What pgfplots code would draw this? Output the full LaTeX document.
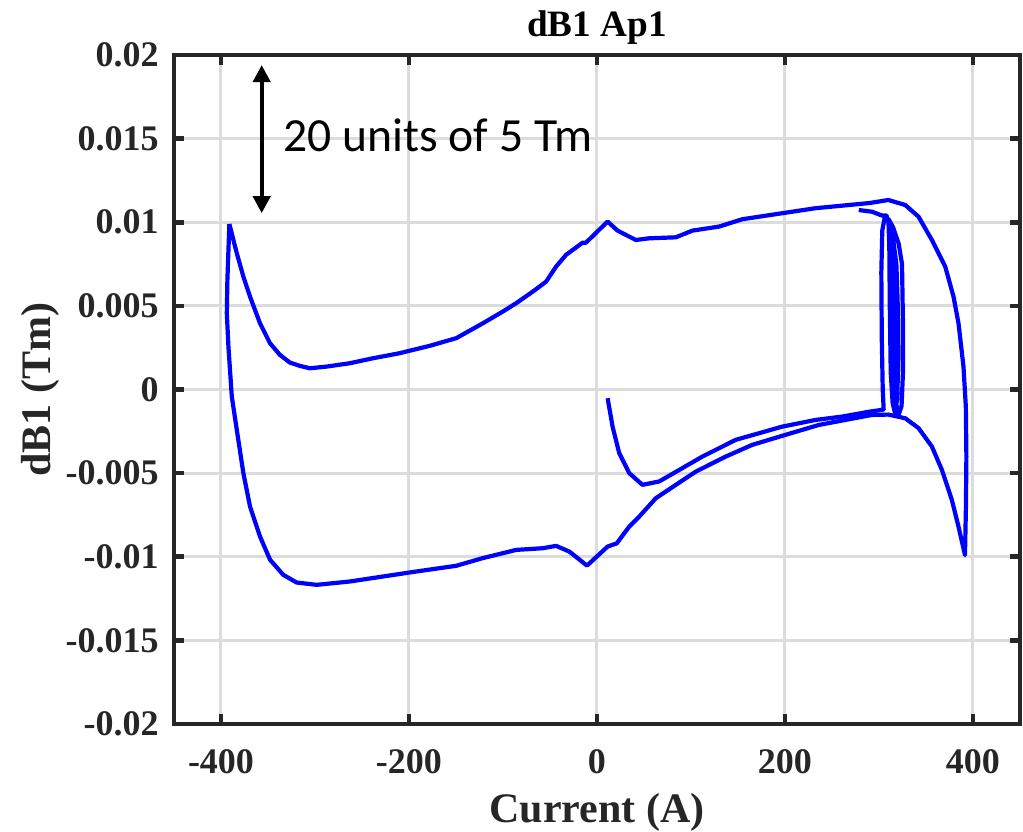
\documentclass[border=0pt]{standalone}
\usepackage{fontspec}
\setmainfont{Liberation Serif}
\newfontfamily\cf{Carlito}
\usepackage{pgfplots}
\pgfplotsset{compat=1.18}
\usetikzlibrary{arrows.meta}
\definecolor{axc}{RGB}{38,38,38}
\definecolor{gridc}{RGB}{220,220,220}
\definecolor{lineblue}{RGB}{0,0,255}
\begin{document}
\begin{tikzpicture}
\useasboundingbox (-87pt,-53.5pt) rectangle (424.5pt,362pt);
\begin{axis}[
  at={(0,0)}, anchor=south west,
  scale only axis, width=423pt, height=334.5pt,
  xmin=-450, xmax=450, ymin=-0.02, ymax=0.02,
  xtick={-400,-200,0,200,400},
  xticklabels={-400,-200,0,200,400},
  ytick={-0.02,-0.015,-0.01,-0.005,0,0.005,0.01,0.015,0.02},
  yticklabels={-0.02,-0.015,-0.01,-0.005,0,0.005,0.01,0.015,0.02},
  scaled y ticks=false, scaled x ticks=false,
  grid=major,
  major grid style={gridc, line width=1.5pt},
  axis line style={axc, line width=2.3pt},
  tick style={axc, line width=2.3pt},
  tick align=inside,
  major tick length=5pt,
  ticklabel style={font=\bfseries\fontsize{18}{18}\selectfont, text=axc, inner sep=0pt},
  xticklabel style={anchor=base, yshift=-24.5pt},
  yticklabel style={anchor=east, xshift=-7.5pt},
  label style={font=\bfseries\fontsize{21}{21}\selectfont, text=axc, inner sep=0pt},
  xlabel={Current (A)},
  xlabel style={at={(axis description cs:0.5,-0.1465)}, anchor=base},
  ylabel={dB1 (Tm)},
  ylabel style={at={(axis description cs:-0.1584,0.5)}, anchor=center},
  title={dB1 Ap1},
  title style={at={(axis description cs:0.5,1)}, anchor=base, yshift=3.5pt, font=\bfseries\fontsize{18.6}{18.6}\selectfont, text=black, inner sep=0pt},
]
% outer loop
\addplot[lineblue, line width=2.1pt, line join=round, mark=none] coordinates {
(-391.1,0.0099) (-383.2,0.00815) (-376.2,0.00675) (-369.1,0.00555) (-358.5,0.00396)
(-347.9,0.00277) (-337.3,0.00207) (-326.7,0.00161) (-316,0.00141) (-305.4,0.00127)
(-287.7,0.00137) (-263,0.00157) (-238.2,0.00187) (-209.9,0.00217) (-202.8,0.00227)
(-178,0.00261) (-149.7,0.00307) (-121.4,0.00396) (-100.2,0.00466) (-86,0.00516)
(-68.4,0.00585) (-54.1,0.00645) (-43.5,0.00735) (-32.9,0.00805) (-15.3,0.00878)
(-11.7,0.00878) (11.3,0.01004) (21.9,0.0095) (34.3,0.00914) (41.4,0.00894)
(55.5,0.00904) (83.9,0.0091) (101.5,0.0095) (129.8,0.00974) (154.6,0.01018)
(197,0.01054) (232.5,0.01084) (267.8,0.01103) (290,0.01115) (310,0.01133)
(328,0.01103) (342.1,0.01033) (356.3,0.00894) (370.5,0.00735) (379.3,0.00555)
(384.6,0.00396) (389.9,0.00137) (392.4,-0.00102) (393,-0.004) (392.5,-0.007)
(391.5,-0.0099) (384.6,-0.0082) (377.5,-0.0066) (366.9,-0.0048) (356.3,-0.00341)
(342.1,-0.00231) (328,-0.00172) (310,-0.0015) (292.6,-0.00152) (264.3,-0.00182)
(236,-0.00212) (200.6,-0.00271) (165.2,-0.00331) (136.9,-0.00401) (105.1,-0.00491)
(83.9,-0.0057) (62.6,-0.0065) (44.9,-0.0076) (34.3,-0.0082) (21,-0.0092)
(11.3,-0.00939) (-10.6,-0.01053) (-29.4,-0.00969) (-43.5,-0.00935) (-57.7,-0.00949)
(-86,-0.00959) (-93.1,-0.00969) (-121.4,-0.01008) (-149.7,-0.01054) (-192.1,-0.01088)
(-227.6,-0.01118) (-263,-0.01148) (-298.3,-0.01168) (-319.5,-0.01154) (-333.8,-0.01108)
(-347.8,-0.01018) (-358.5,-0.00879) (-369.1,-0.0070) (-376.2,-0.005) (-383.2,-0.00241)
(-388.5,-0.00042) (-392.1,0.00256) (-393.8,0.00456) (-393.2,0.00655) (-391.1,0.0099)
};
% start branch and minor loops
\addplot[lineblue, line width=2.1pt, line join=round, mark=none] coordinates {
(11.3,-0.00052) (16.6,-0.00222) (23.7,-0.00381) (34.3,-0.005) (48.4,-0.0057)
(66.1,-0.0055) (90.9,-0.0047) (112.1,-0.00401) (147.6,-0.00301) (197,-0.00222)
(232.5,-0.00182) (260.7,-0.00162) (289.3,-0.00133) (305,-0.0012)
(304,0.000) (303,0.003) (302.5,0.007) (303.5,0.0095) (306.5,0.0104)
(310,0.0100) (315,0.0090) (318.5,0.0075) (320,0.005) (320.5,0.002)
(319.5,-0.0005) (317,-0.0014) (314.5,-0.0008) (312.5,0.001) (311.5,0.005)
(311,0.0085) (310,0.0102) (315,0.0097) (321,0.0087) (324.5,0.0075)
(325.5,0.004) (325.5,0.001) (324,-0.0010) (321,-0.0015) (318,-0.0008)
(316.5,0.002) (315.5,0.006) (313,0.0095) (308,0.0104) (303.2,0.0104)
(292.6,0.01063) (278.5,0.01073)
};
\draw[black, line width=2pt, {Triangle[width=8.5pt,length=8.5pt]}-{Triangle[width=8.5pt,length=8.5pt]}]
  (axis cs:-356.7,0.0194) -- (axis cs:-356.7,0.01054);
\node[anchor=base west, inner sep=0pt, font=\cf\fontsize{23.8}{23.8}\selectfont]
  at (axis cs:-333.8,0.01422) {20 units of 5 Tm};
\end{axis}
\end{tikzpicture}
\end{document}
